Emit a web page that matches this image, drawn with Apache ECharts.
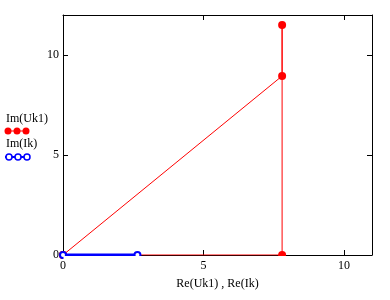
<!DOCTYPE html>
<html><head><meta charset="utf-8">
<script src="https://cdn.jsdelivr.net/npm/echarts@6/dist/echarts.min.js"></script>
<style>html,body{margin:0;padding:0;background:#fff}#c{width:390px;height:300px}</style>
</head><body><div id="c"></div>
<script>
var reUk1 = [0, 7.8, 7.8, 7.8, 0];
var imUk1 = [0, 8.95, 11.5, 0, 0];
var reIk = [0, 2.65];
var imIk = [0, 0];
var xTicks = [0, 5, 10];
var yTicks = [0, 5, 10];
var names = ['Im(Uk1)', 'Im(Ik)'];

function pairs(a, b){ return a.map(function(v,i){ return [v, b[i]]; }); }
var font = 'Liberation Serif';
var chart = echarts.init(document.getElementById('c'));
var axisCommon = {
  type: 'value', min: 0, interval: 5,
  axisLine: {show: true, onZero: false, lineStyle: {color: '#000', width: 1}},
  axisTick: {show: true, inside: true, length: 5, lineStyle: {color: '#000'}},
  splitLine: {show: false}
};
chart.setOption({
  animation: false,
  grid: {left: 63, top: 15, right: 18, bottom: 45},
  xAxis: [
    Object.assign({}, axisCommon, {max: 11, position: 'bottom',
      name: 'Re(Uk1) , Re(Ik)', nameLocation: 'middle', nameGap: 23,
      nameTextStyle: {fontFamily: font, fontSize: 12, color: '#000'},
      axisLabel: {fontFamily: font, fontSize: 12, color: '#000', margin: 5,
        showMaxLabel: false, formatter: function(v){ return xTicks.indexOf(v) >= 0 ? String(v) : ''; }}}),
    Object.assign({}, axisCommon, {max: 11, position: 'top', axisLabel: {show: false}})
  ],
  yAxis: [
    Object.assign({}, axisCommon, {max: 12, position: 'left',
      axisLabel: {fontFamily: font, fontSize: 12, color: '#000', margin: 4,
        showMaxLabel: false, formatter: function(v){ return yTicks.indexOf(v) >= 0 ? String(v) : ''; }}}),
    Object.assign({}, axisCommon, {max: 12, position: 'right', axisLabel: {show: false}})
  ],
  series: [
    {name: names[0], type: 'line', data: pairs(reUk1, imUk1), symbol: 'circle', symbolSize: 8,
     lineStyle: {color: '#ff0000', width: 1}, itemStyle: {color: '#ff0000'}, z: 2},
    {name: names[1], type: 'line', data: pairs(reIk, imIk), symbol: 'emptyCircle', symbolSize: 6,
     lineStyle: {color: '#0000ff', width: 3}, itemStyle: {color: '#0000ff', borderColor: '#0000ff', borderWidth: 1.5}, z: 3}
  ],
  graphic: [
    {type: 'rect', z: 100, shape: {x: 63.5, y: 256, width: 312, height: 4}, style: {fill: '#fff'}},
    {type: 'text', left: 6, top: 113, style: {text: names[0], fontFamily: font, fontSize: 12, fill: '#000'}},
    {type: 'line', shape: {x1: 5, y1: 131, x2: 29, y2: 131}, style: {stroke: '#ff0000', lineWidth: 1}},
    {type: 'circle', shape: {cx: 8, cy: 131, r: 3.5}, style: {fill: '#ff0000'}},
    {type: 'circle', shape: {cx: 17, cy: 131, r: 3.5}, style: {fill: '#ff0000'}},
    {type: 'circle', shape: {cx: 26, cy: 131, r: 3.5}, style: {fill: '#ff0000'}},
    {type: 'text', left: 6, top: 138, style: {text: names[1], fontFamily: font, fontSize: 12, fill: '#000'}},
    {type: 'line', shape: {x1: 5, y1: 157, x2: 30, y2: 157}, style: {stroke: '#0000ff', lineWidth: 2}},
    {type: 'circle', shape: {cx: 9, cy: 157, r: 3}, style: {fill: '#fff', stroke: '#0000ff', lineWidth: 1.5}},
    {type: 'circle', shape: {cx: 18, cy: 157, r: 3}, style: {fill: '#fff', stroke: '#0000ff', lineWidth: 1.5}},
    {type: 'circle', shape: {cx: 27, cy: 157, r: 3}, style: {fill: '#fff', stroke: '#0000ff', lineWidth: 1.5}}
  ]
});
</script></body></html>
